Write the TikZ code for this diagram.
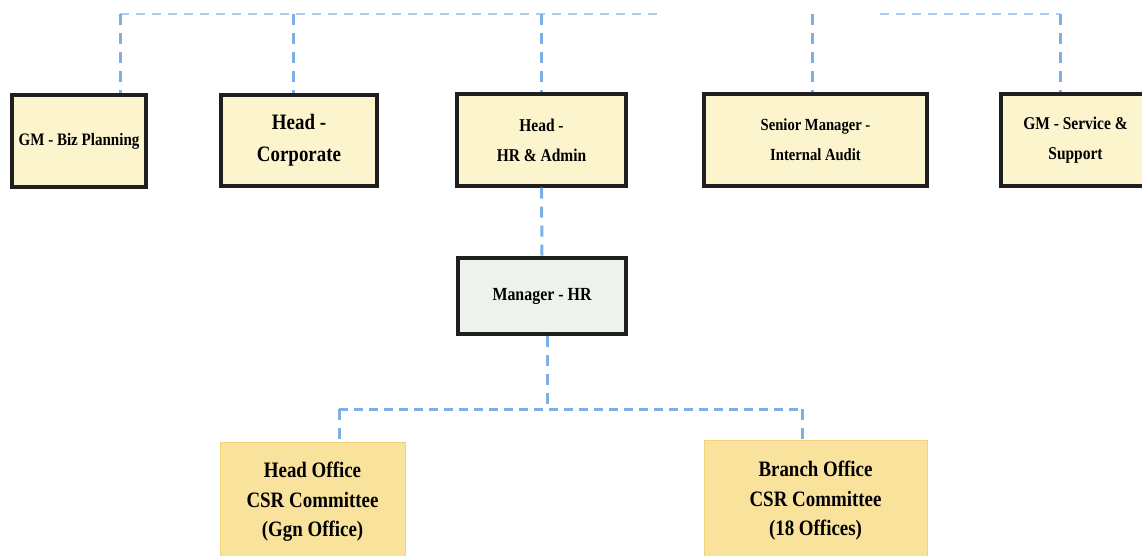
\documentclass[tikz,border=0pt]{standalone}
\usepackage{fontspec}
\setmainfont{Liberation Serif}[FakeStretch=0.86]
\definecolor{boxfill}{HTML}{FBF4CC}
\definecolor{mgrfill}{HTML}{EEF2EC}
\definecolor{csrfill}{HTML}{F9E39C}
\definecolor{csredge}{HTML}{EFD27A}
\definecolor{dropblue}{HTML}{7DB0E6}
\definecolor{busblue}{HTML}{AFCCEE}
\begin{document}
\begin{tikzpicture}[x=1pt,y=-1pt,
  topbox/.style={draw=black!88,line width=3.3pt,fill=boxfill,align=center,font=\bfseries,inner sep=2pt},
  mgrbox/.style={draw=black!88,line width=3.3pt,fill=mgrfill,align=center,font=\bfseries,inner sep=2pt},
  csrbox/.style={draw=csredge,line width=0.8pt,fill=csrfill,align=center,font=\bfseries,inner sep=2pt},
  drop/.style={draw=dropblue,line width=3pt,dash pattern=on 11pt off 8pt},
  bus/.style={draw=busblue,line width=2pt,dash pattern=on 9pt off 7pt},
  lowbus/.style={draw=dropblue,line width=3pt,dash pattern=on 9pt off 6pt}]
\path[use as bounding box] (0,0) rectangle (1142,555);
\fill[white] (0,0) rectangle (1142,555);

% top row
\node[topbox,minimum width=134pt,minimum height=92pt,font=\bfseries\fontsize{17.5}{20}\selectfont] (gmbiz) at (79,141) {GM - Biz Planning};
\node[topbox,minimum width=156pt,minimum height=91pt,font=\bfseries\fontsize{22}{32}\selectfont] (headcorp) at (299,140.5) {Head -\\Corporate};
\node[topbox,minimum width=169pt,minimum height=92pt,font=\bfseries\fontsize{18}{30}\selectfont] (headhr) at (541.5,140) {Head -\\HR \& Admin};
\node[topbox,minimum width=223pt,minimum height=92pt,font=\bfseries\fontsize{17}{30}\selectfont] (senior) at (815.5,140) {Senior Manager -\\Internal Audit};
\node[topbox,minimum width=149pt,minimum height=92pt,font=\bfseries\fontsize{18}{30}\selectfont] (gmserv) at (1075.5,140) {GM - Service \&\\Support};

% middle
\node[mgrbox,minimum width=168pt,minimum height=76pt,font=\bfseries\fontsize{18.5}{22}\selectfont] (mgrhr) at (542,296) {Manager - HR};

% bottom
\node[csrbox,minimum width=185pt,minimum height=120pt,font=\bfseries\fontsize{22}{29.5}\selectfont] (hocsr) at (312.5,502) {Head Office\\CSR Committee\\(Ggn Office)};
\node[csrbox,minimum width=223pt,minimum height=122pt,font=\bfseries\fontsize{22}{29.5}\selectfont] (bocsr) at (815.5,501) {Branch Office\\CSR Committee\\(18 Offices)};

% top bus coordinates
\coordinate (t1) at (120,14);
\coordinate (t2) at (293,14);
\coordinate (t3) at (541.5,14);
\coordinate (tgapL) at (663,14);
\coordinate (t4) at (812,14);
\coordinate (tgapR) at (880,14);
\coordinate (t5) at (1060,14);

\draw[bus] (t1) -- (tgapL);
\draw[bus] (tgapR) -- (t5);

\draw[drop] (t1) -- (gmbiz.north -| t1);
\draw[drop] (t2) -- (headcorp.north -| t2);
\draw[drop] (t3) -- (headhr.north);
\draw[drop] (t4) -- (senior.north -| t4);
\draw[drop] (t5) -- (gmserv.north -| t5);

% head HR to manager HR
\draw[drop] (headhr.south) -- (mgrhr.north);

% manager HR to committees
\coordinate (m1) at (547,409);
\coordinate (bL) at (339,409);
\coordinate (bR) at (802,409);
\draw[drop] (mgrhr.south -| m1) -- (m1);
\draw[lowbus] (bL) -- (bR);
\draw[drop] (bL) -- (hocsr.north -| bL);
\draw[drop] (bR) -- (bocsr.north -| bR);
\end{tikzpicture}
\end{document}
